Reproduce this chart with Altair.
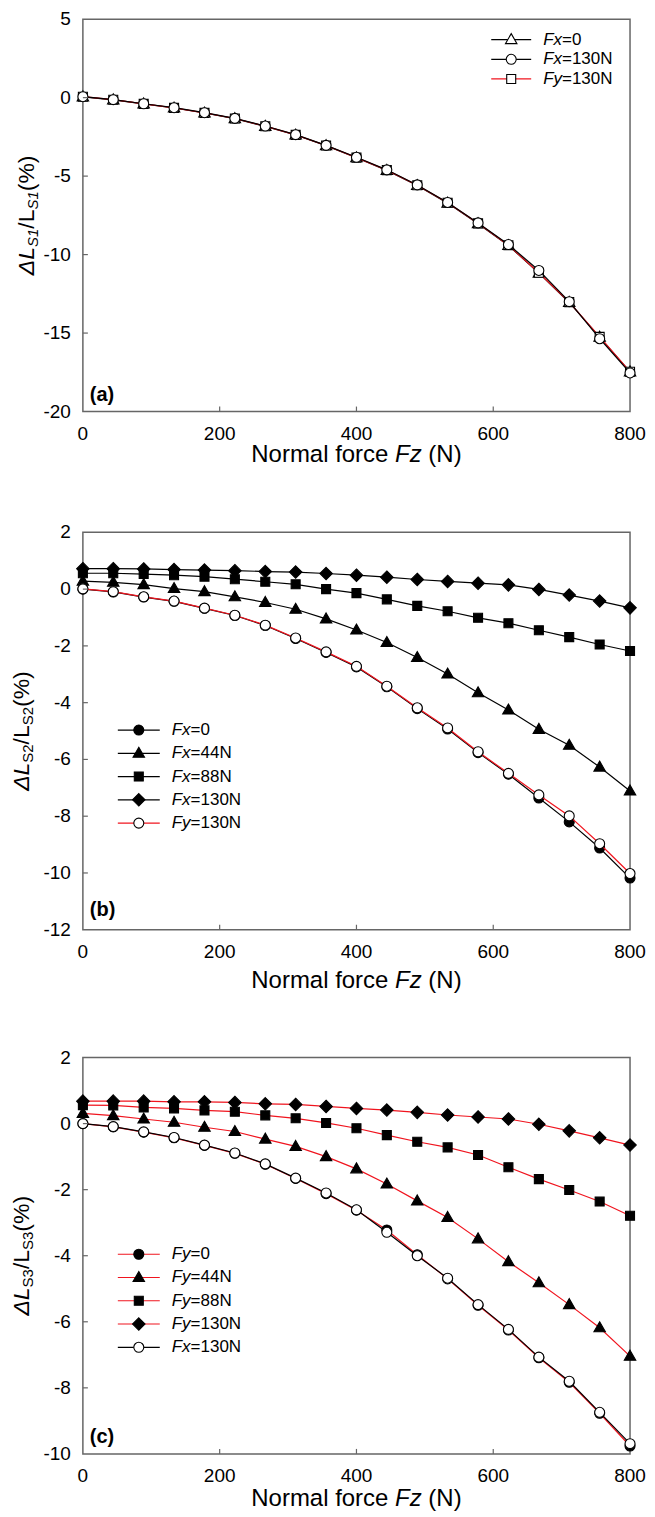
import altair as alt
import pandas as pd

FONT = "Liberation Sans"
FRAME = "#666666"
RED = "#f0141e"
BLACK = "#000000"

FZ = [0, 44.4, 88.9, 133.3, 177.8, 222.2, 266.7, 311.1, 355.6, 400.0,
      444.4, 488.9, 533.3, 577.8, 622.2, 666.7, 711.1, 755.6, 800.0]
X_TICKS = [0, 200, 400, 600, 800]

# ---- panel (a) ----
A_SERIES = ["Fx=0", "Fx=130N", "Fy=130N"]
A_FX0 = [0.05, -0.14, -0.40, -0.66, -0.98, -1.34, -1.83, -2.38, -3.06, -3.83,
         -4.64, -5.60, -6.72, -8.03, -9.42, -11.18, -13.05, -15.26, -17.47]
A_FX130 = [0.06, -0.13, -0.39, -0.64, -0.96, -1.32, -1.81, -2.36, -3.04, -3.80,
           -4.60, -5.56, -6.68, -7.98, -9.36, -11.01, -13.00, -15.36, -17.54]
A_FY130 = [0.06, -0.13, -0.40, -0.65, -0.97, -1.33, -1.82, -2.37, -3.05, -3.82,
           -4.62, -5.58, -6.70, -8.01, -9.40, -11.16, -13.03, -15.24, -17.46]
A_Y_TICKS = [-20, -15, -10, -5, 0, 5]

# ---- panel (b) ----
B_SERIES = ["Fx=0", "Fx=44N", "Fx=88N", "Fx=130N", "Fy=130N"]
B_FX0 = [0.00, -0.10, -0.28, -0.43, -0.68, -0.93, -1.28, -1.74, -2.23, -2.74,
         -3.44, -4.21, -4.93, -5.76, -6.52, -7.36, -8.20, -9.12, -10.18]
B_FX44 = [0.28, 0.24, 0.16, 0.02, -0.09, -0.27, -0.47, -0.71, -1.05, -1.44,
          -1.88, -2.41, -2.99, -3.65, -4.26, -4.94, -5.50, -6.27, -7.11]
B_FX88 = [0.56, 0.56, 0.53, 0.49, 0.44, 0.35, 0.26, 0.17, 0.00, -0.14,
          -0.36, -0.59, -0.78, -1.01, -1.20, -1.45, -1.69, -1.95, -2.18]
B_FX130 = [0.72, 0.72, 0.71, 0.69, 0.67, 0.65, 0.62, 0.60, 0.55, 0.49,
           0.42, 0.34, 0.27, 0.21, 0.15, -0.01, -0.21, -0.42, -0.66]
B_FY130 = [0.01, -0.09, -0.27, -0.42, -0.67, -0.92, -1.27, -1.72, -2.21, -2.72,
           -3.42, -4.18, -4.89, -5.73, -6.49, -7.25, -7.99, -8.97, -10.02]
B_Y_TICKS = [-12, -10, -8, -6, -4, -2, 0, 2]

# ---- panel (c) ----
C_SERIES = ["Fy=0", "Fy=44N", "Fy=88N", "Fy=130N", "Fx=130N"]
C_FY0 = [0.00, -0.10, -0.26, -0.43, -0.66, -0.90, -1.23, -1.66, -2.12, -2.62,
         -3.22, -3.97, -4.70, -5.50, -6.25, -7.09, -7.83, -8.77, -9.76]
C_FY44 = [0.31, 0.24, 0.14, 0.04, -0.11, -0.24, -0.47, -0.69, -1.00, -1.37,
          -1.83, -2.34, -2.84, -3.49, -4.18, -4.82, -5.48, -6.18, -7.04]
C_FY88 = [0.56, 0.55, 0.49, 0.46, 0.40, 0.36, 0.25, 0.16, 0.02, -0.14,
          -0.35, -0.55, -0.72, -0.95, -1.32, -1.68, -2.01, -2.36, -2.79]
C_FY130 = [0.68, 0.68, 0.68, 0.66, 0.66, 0.64, 0.60, 0.58, 0.52, 0.46,
           0.41, 0.34, 0.26, 0.20, 0.14, -0.02, -0.22, -0.43, -0.65]
C_FX130 = [0.00, -0.09, -0.25, -0.42, -0.65, -0.89, -1.22, -1.65, -2.10, -2.61,
           -3.29, -4.00, -4.68, -5.48, -6.23, -7.07, -7.80, -8.74, -9.69]
C_Y_TICKS = [-10, -8, -6, -4, -2, 0, 2]

# ---- symbol shapes (unit paths) ----
TRI = "M0,-1.2L1.15,0.8L-1.15,0.8Z"
CIRC = "M1,0A1,1,0,1,1,-1,0A1,1,0,1,1,1,0Z"
SQR = "M-0.9,-0.9L0.9,-0.9L0.9,0.9L-0.9,0.9Z"
DIAM = "M0,-1.25L1.25,0L0,1.25L-1.25,0Z"

CW = {"N": .722, "o": .556, "r": .333, "m": .833, "a": .556, "l": .222, " ": .278,
      "f": .278, "c": .5, "e": .556, "F": .611, "z": .5, "(": .333, ")": .333,
      "\u0394": .668, "L": .556, "S": .667, "1": .556, "2": .556, "3": .556,
      "/": .278, "%": .889, "x": .5, "y": .5}


def tw(s, size):
    return sum(CW.get(ch, 0.556) for ch in s) * size


def one():
    return alt.Chart(pd.DataFrame({"t": [0]}))


def text_layer(s, x, y, size, style="normal", weight="normal", angle=0,
               align="left", baseline="alphabetic"):
    return alt.Chart(pd.DataFrame({"t": [s]})).mark_text(
        font=FONT, fontSize=size, fontStyle=style, fontWeight=weight,
        angle=angle, align=align, baseline=baseline, color="black"
    ).encode(text="t:N", x=alt.value(x), y=alt.value(y))


def legend_layers(series, shapes, fills, colors, xm, y0, pitch, half=21, gap=33):
    out = []
    for k, s in enumerate(series):
        yy = y0 + k * pitch
        out.append(one().mark_rule(strokeWidth=1.2, color=colors[k]).encode(
            x=alt.value(xm - half), x2=alt.value(xm + half), y=alt.value(yy)))
        out.append(one().mark_point(shape=shapes[k], size=100, filled=True,
                                    fill=fills[k], stroke="black", strokeWidth=1.1,
                                    opacity=1).encode(x=alt.value(xm), y=alt.value(yy)))
        out.append(text_layer(s[:2], xm + gap, yy, 17, style="italic", baseline="middle"))
        out.append(text_layer(s[2:], xm + gap + tw(s[:2], 17), yy, 17, baseline="middle"))
    return out


def panel(series, values, order, shapes, fills, colors, ydom, yticks, W, H,
          leg, ytitle_parts, ytitle_x, xtitle_dy, tag):
    xs = alt.Scale(domain=[0, 800], nice=False, zero=False)
    ys = alt.Scale(domain=ydom, nice=False, zero=False)

    layers = []
    for s in order:
        i = series.index(s)
        df = pd.DataFrame({"Fz": FZ, "v": values[i]})
        base = alt.Chart(df)
        enc_x = alt.X("Fz:Q", scale=xs, axis=None)
        enc_y = alt.Y("v:Q", scale=ys, axis=None)
        line = base.mark_line(strokeWidth=1.2, color=colors[i]).encode(x=enc_x, y=enc_y)
        pts = base.mark_point(filled=True, size=100, shape=shapes[i], fill=fills[i],
                              stroke="black", strokeWidth=1.1, opacity=1).encode(
            x=enc_x, y=enc_y)
        layers += [line, pts]

    # inward tick marks
    xt = alt.Chart(pd.DataFrame({"t": X_TICKS[1:-1]})).mark_rule(
        color=FRAME, strokeWidth=1.2).encode(
        x=alt.X("t:Q", scale=xs, axis=None), y=alt.value(H), y2=alt.value(H - 5))
    yt = alt.Chart(pd.DataFrame({"t": yticks[1:-1]})).mark_rule(
        color=FRAME, strokeWidth=1.2).encode(
        y=alt.Y("t:Q", scale=ys, axis=None), x=alt.value(0), x2=alt.value(5))
    layers += [xt, yt]

    # tick labels, placed through the scales
    xl = alt.Chart(pd.DataFrame({"t": X_TICKS, "lab": [str(v) for v in X_TICKS]})).mark_text(
        font=FONT, fontSize=19, align="center", baseline="middle", color="black").encode(
        x=alt.X("t:Q", scale=xs, axis=None), y=alt.value(H + 22), text="lab:N")
    yl = alt.Chart(pd.DataFrame({"t": yticks, "lab": [str(v) for v in yticks]})).mark_text(
        font=FONT, fontSize=19, align="right", baseline="middle", color="black").encode(
        y=alt.Y("t:Q", scale=ys, axis=None), x=alt.value(-12), text="lab:N")
    layers += [xl, yl]

    # legend
    layers += legend_layers(series, shapes, fills, colors, *leg)

    # y title (rotated, composed of styled pieces)
    total = sum(tw(p[0], p[2]) for p in ytitle_parts)
    ypos = H / 2 + total / 2
    for txt, style, size, sub in ytitle_parts:
        layers.append(text_layer(txt, ytitle_x + (4 if sub else 0), ypos, size,
                                 style=style, angle=270))
        ypos -= tw(txt, size)

    # x title
    fs = 24
    parts = [("Normal force", "normal"), ("Fz", "italic"), ("(N)", "normal")]
    sp = tw(" ", fs)
    total = sum(tw(p[0], fs) for p in parts) + sp * (len(parts) - 1)
    xpos = W / 2 - total / 2
    for txt, style in parts:
        layers.append(text_layer(txt, xpos, H + xtitle_dy, fs, style=style,
                                 baseline="middle"))
        xpos += tw(txt, fs) + sp

    # panel tag
    layers.append(text_layer(tag[0], 7, tag[1], 20, weight="bold", baseline="middle"))

    # invisible left spacer so that rotated titles are never clipped
    layers.append(one().mark_rule(strokeOpacity=0, strokeWidth=1).encode(
        x=alt.value(-74), x2=alt.value(-74), y=alt.value(0), y2=alt.value(20)))

    return alt.layer(*layers).properties(width=W, height=H)


YT_A = [("\u0394L", "italic", 23, False), ("S1", "italic", 15, True),
        ("/L", "normal", 23, False), ("S1", "italic", 15, True),
        ("(%)", "normal", 23, False)]
YT_B = [("\u0394L", "italic", 23, False), ("S2", "normal", 15, True),
        ("/L", "normal", 23, False), ("S2", "normal", 15, True),
        ("(%)", "normal", 23, False)]
YT_C = [("\u0394L", "italic", 23, False), ("S3", "normal", 15, True),
        ("/L", "normal", 23, False), ("S3", "normal", 15, True),
        ("(%)", "normal", 23, False)]

W = 548

pa = panel(A_SERIES, [A_FX0, A_FX130, A_FY130], ["Fx=0", "Fy=130N", "Fx=130N"],
           [TRI, CIRC, SQR], ["white", "white", "white"], [BLACK, BLACK, RED],
           [-20, 5], A_Y_TICKS, W, 393, (429, 20.5, 19.7, 20, 32),
           YT_A, -49, 44, ("(a)", 376))

pb = panel(B_SERIES, [B_FX0, B_FX44, B_FX88, B_FX130, B_FY130],
           ["Fx=130N", "Fx=88N", "Fx=44N", "Fx=0", "Fy=130N"],
           [CIRC, TRI, SQR, DIAM, CIRC], ["black", "black", "black", "black", "white"],
           [BLACK, BLACK, BLACK, BLACK, RED],
           [-12, 2], B_Y_TICKS, W, 398, (56, 198, 23.3, 21, 33),
           YT_B, -54, 51, ("(b)", 378))

pc = panel(C_SERIES, [C_FY0, C_FY44, C_FY88, C_FY130, C_FX130],
           ["Fy=130N", "Fy=88N", "Fy=44N", "Fy=0", "Fx=130N"],
           [CIRC, TRI, SQR, DIAM, CIRC], ["black", "black", "black", "black", "white"],
           [RED, RED, RED, RED, BLACK],
           [-10, 2], C_Y_TICKS, W, 397, (56, 197, 23.3, 21, 33),
           YT_C, -54, 45, ("(c)", 380))

chart = alt.vconcat(pa, pb, pc, spacing=54).resolve_scale(
    x="independent", y="independent"
).properties(padding=0).configure_view(
    stroke=FRAME, strokeWidth=1.5
)

chart.save("out.html", embed_options={"renderer": "svg", "actions": False})
